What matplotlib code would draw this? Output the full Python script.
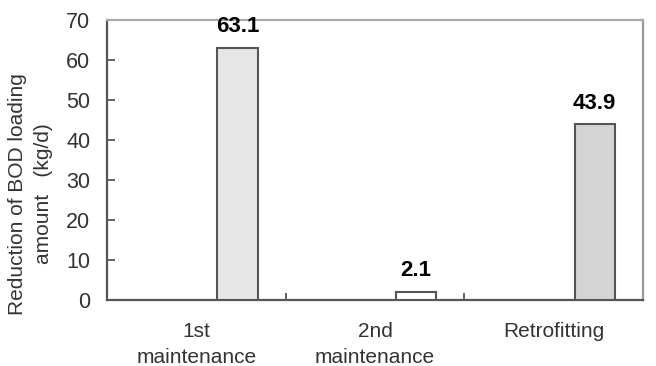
import matplotlib
matplotlib.use("Agg")
import matplotlib.pyplot as plt
import numpy as np

categories = ['1st\nmaintenance', '2nd\nmaintenance', 'Retrofitting']
values = [63.1, 2.1, 43.9]
value_labels = ['63.1', '2.1', '43.9']
bar_colors = ['#e6e6e6', '#ffffff', '#d4d4d4']
yticks = [0, 10, 20, 30, 40, 50, 60, 70]
ylabel = 'Reduction of BOD loading\namount   (kg/d)'

plt.rcParams['font.family'] = ['Liberation Sans', 'DejaVu Sans']

fig = plt.figure(figsize=(6.56, 3.66), dpi=100)
ax = fig.add_axes([107/656, 1-300/366, (643-107)/656, 280/366])

x = np.arange(len(categories))
offset = 0.23
width = 0.225
ax.bar(x + offset, values, width=width, color=bar_colors,
       edgecolor='#555555', linewidth=1.5, zorder=3)

for xi, v, lab in zip(x, values, value_labels):
    ax.annotate(lab, (xi + offset, v), xytext=(0, 11), textcoords='offset points',
                ha='center', va='baseline', fontsize=16, fontweight='bold',
                color='black', zorder=5, annotation_clip=False)

ax.set_xlim(-0.5, 2.5)
ax.set_ylim(0, 70)
ax.set_yticks(yticks)
ax.set_yticklabels([str(t) for t in yticks])
ax.tick_params(axis='y', direction='in', length=6, width=1.3, color='#555555',
               labelsize=15.5, labelcolor='#333333', pad=12)

# category boundary ticks (major), category labels (minor)
ax.set_xticks([0.5, 1.5])
ax.set_xticklabels([])
ax.tick_params(axis='x', which='major', direction='in', length=5, width=1.3,
               color='#555555')
ax.set_xticks(x, minor=True)
ax.set_xticklabels(categories, minor=True)
ax.tick_params(axis='x', which='minor', length=0, labelsize=15,
               labelcolor='#333333', pad=16)
for lbl in ax.get_xticklabels(minor=True):
    lbl.set_linespacing(1.42)

ax.spines['left'].set_color('#555555')
ax.spines['bottom'].set_color('#555555')
ax.spines['top'].set_color('#aaaaaa')
ax.spines['right'].set_color('#999999')
for s in ax.spines.values():
    s.set_linewidth(1.6)

ax.set_ylabel(ylabel, fontsize=15, color='#333333', linespacing=1.5)
ax.yaxis.set_label_coords(-0.1, 0.38)

fig.savefig('out.png', dpi=100)
